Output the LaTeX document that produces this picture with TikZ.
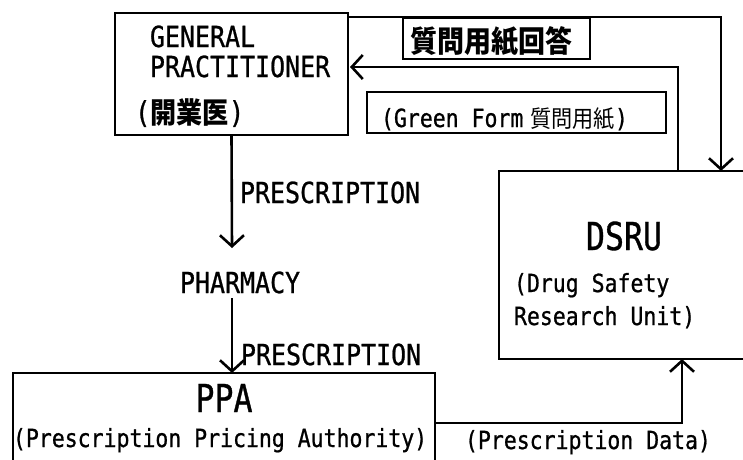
\documentclass[tikz,border=0pt]{standalone}
\usepackage{fontspec}
\usetikzlibrary{arrows.meta}
\newfontfamily\monofnt[FakeStretch=0.86,FakeBold=0.8]{DejaVu Sans Mono}
\newfontfamily\bigmono[FakeStretch=0.82,FakeBold=0.8]{DejaVu Sans Mono}
\newfontfamily\cjkfnt[FakeStretch=0.9]{Noto Sans CJK JP}
\begin{document}
\begin{tikzpicture}[x=1pt,y=-1pt]
\tikzset{
  boxnode/.style={draw, line width=2.8pt, inner sep=0pt, outer sep=0pt},
  conn/.style={line width=2.6pt, -{Straight Barb[length=11pt,width=24pt]}},
  lbl/.style={inner sep=0pt, outer sep=0pt, anchor=base west},
  midtxt/.style={lbl, font=\monofnt\fontsize{29}{30}\selectfont},
  smalltxt/.style={lbl, font=\monofnt\fontsize{25}{26}\selectfont},
  bigtxt/.style={inner sep=0pt, anchor=base, font=\bigmono\fontsize{38.5}{40}\selectfont}
}
\clip (0,0) rectangle (743,459);
\fill[white] (0,0) rectangle (743,459);

% boxes
\node[boxnode, minimum width=233pt, minimum height=122pt] (gp) at (231.5,74) {};
\node[boxnode, minimum width=187pt, minimum height=41pt] (ans) at (496.5,38.5) {};
\node[boxnode, minimum width=299pt, minimum height=41pt] (gf) at (516.5,112.5) {};
\node[boxnode, minimum width=265pt, minimum height=188pt] (dsru) at (631.5,265) {};
\node[boxnode, minimum width=422pt, minimum height=100pt] (ppa) at (224,423) {};

% texts
\node[midtxt] (gpt1) at (150,47) {GENERAL};
\node[midtxt] (gpt2) at (150,77) {PRACTITIONER};
\node[lbl] (gpt3) at (135,123) {{\monofnt\fontsize{30}{30}\selectfont(}{\cjkfnt\bfseries\fontsize{29}{30}\selectfont 開業医}{\monofnt\fontsize{30}{30}\selectfont)}};
\node[inner sep=0pt, font=\cjkfnt\bfseries\fontsize{30}{30}\selectfont] (anst) at (491,41) {質問用紙回答};
\node[lbl] (gft) at (381,127) {{\monofnt\fontsize{25}{26}\selectfont(Green Form}\hspace{7pt}{\cjkfnt\fontsize{23.5}{24}\selectfont 質問用紙}{\monofnt\fontsize{25}{26}\selectfont)}};
\node[midtxt] (rx1) at (240,203) {PRESCRIPTION};
\node[midtxt] (pharm) at (180,293) {PHARMACY};
\node[midtxt] (rx2) at (241,365) {PRESCRIPTION};
\node[bigtxt] (dsrut) at (624,250) {DSRU};
\node[smalltxt] (dsru1) at (514,292) {(Drug Safety};
\node[smalltxt] (dsru2) at (514,325) {Research Unit)};
\node[bigtxt] (ppat) at (224,412) {PPA};
\node[smalltxt] (ppa1) at (13,447) {(Prescription Pricing Authority)};
\node[smalltxt] (pdata) at (465,449) {(Prescription Data)};

% helper coordinates
\coordinate (p1) at (232,248);
\coordinate (p2) at (232,298);
\coordinate (d1) at (682,0);
\coordinate (t1) at (0,17);
\coordinate (t2) at (721,0);
\coordinate (r1) at (678,0);
\coordinate (r2) at (0,67);

% connectors
\draw[conn] (gp.south) -- (p1);
\draw[conn] (p2) -- (p2 |- ppa.north);
\draw[conn] (ppa.east) -| (d1 |- dsru.south);
\draw[conn] (gp.east |- t1) -| (t2 |- dsru.north);
\draw[conn, shorten >=2pt] (r1 |- dsru.north) |- (gp.east |- r2);
\end{tikzpicture}
\end{document}
